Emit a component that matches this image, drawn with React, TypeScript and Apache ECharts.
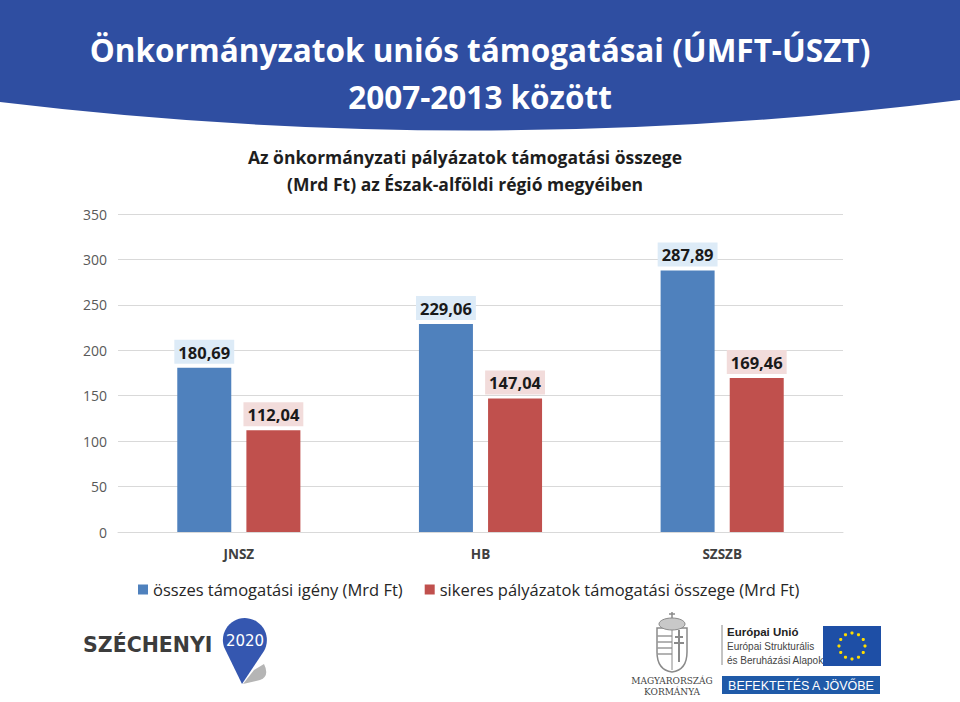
import React, { useEffect, useRef } from "react";
import * as echarts from "echarts";

const categories = ["JNSZ", "HB", "SZSZB"];
const totalDemand = [180.69, 229.06, 287.89];
const successful = [112.04, 147.04, 169.46];
const seriesNames = [
  "összes támogatási igény (Mrd Ft)",
  "sikeres pályázatok támogatási összege (Mrd Ft)",
];
const headerLines = ["Önkormányzatok uniós támogatásai (ÚMFT-ÚSZT)", "2007-2013 között"];
const chartTitleLines = [
  "Az önkormányzati pályázatok támogatási összege",
  "(Mrd Ft) az Észak-alföldi régió megyéiben",
];

const FONT = "'Open Sans', 'Noto Sans', sans-serif";

let registered = false;
function registerShapes() {
  if (registered) return;
  registered = true;
  echarts.graphic.registerShape(
    "headerBand",
    echarts.graphic.extendPath("M0 0 L960 0 L960 100 Q480 160 0 102 Z", {})
  );
  echarts.graphic.registerShape(
    "pinShape",
    echarts.graphic.extendPath("M -21 7 A 22 22 0 1 1 19 11 L -3 44 Z", {})
  );
  echarts.graphic.registerShape(
    "pinShadow",
    echarts.graphic.extendPath("M 8 30 L 18 24 Q 24 36 14 40 L -3 44 Z", {})
  );
  echarts.graphic.registerShape(
    "shield",
    echarts.graphic.extendPath("M -15 -20 L 15 -20 L 15 4 Q 15 22 0 24 Q -15 22 -15 4 Z", {})
  );
}

function txt(x: number, y: number, text: string, o: any = {}) {
  return {
    type: "text",
    x,
    y,
    silent: true,
    style: {
      text,
      fill: o.fill || "#222",
      fontSize: o.fontSize || 14,
      fontWeight: o.fontWeight || "normal",
      fontFamily: o.fontFamily || FONT,
      align: o.align || "left",
      textAlign: o.align || "left",
      verticalAlign: "middle",
      textVerticalAlign: "middle",
    },
  };
}

export default function App() {
  const ref = useRef<HTMLDivElement>(null);
  useEffect(() => {
    document.body.style.margin = "0";
    registerShapes();
    const chart = echarts.init(ref.current!, null, { renderer: "svg" });

    const stars: any[] = [];
    for (let i = 0; i < 12; i++) {
      const a = (i / 12) * Math.PI * 2;
      stars.push({
        type: "circle",
        shape: { cx: 852 + 13 * Math.cos(a), cy: 646 + 13 * Math.sin(a), r: 1.6 },
        style: { fill: "#FFDD00" },
      });
    }

    const graphic: any[] = [
      { type: "headerBand", shape: {}, style: { fill: "#2F4EA1" }, silent: true },
      txt(480, 49, headerLines[0], { fill: "#fff", fontSize: 31.5, fontWeight: "bold", align: "center" }),
      txt(480, 96, headerLines[1], { fill: "#fff", fontSize: 31.5, fontWeight: "bold", align: "center" }),
      txt(465, 157, chartTitleLines[0], { fill: "#1E1E1E", fontSize: 17.5, fontWeight: "bold", align: "center" }),
      txt(465, 184, chartTitleLines[1], { fill: "#1E1E1E", fontSize: 17.5, fontWeight: "bold", align: "center" }),
      // Széchenyi 2020 logo
      txt(83, 645, "SZÉCHENYI", { fill: "#3C3C3C", fontSize: 20.5, fontWeight: "bold", fontFamily: "'DejaVu Sans', sans-serif" }),
      { type: "pinShadow", x: 246, y: 640, shape: {}, style: { fill: "#B5B5B5" } },
      { type: "pinShape", x: 245, y: 640, shape: {}, style: { fill: "#3557B0" } },
      txt(245, 641, "2020", { fill: "#fff", fontSize: 15, align: "center", fontFamily: "'DejaVu Sans', sans-serif" }),
      // Coat of arms (simplified)
      { type: "shield", x: 672, y: 648, shape: {}, style: { fill: "#fff", stroke: "#8A8A8A", lineWidth: 1.5 } },
      { type: "line", shape: { x1: 657, y1: 636, x2: 672, y2: 636 }, style: { stroke: "#9A9A9A", lineWidth: 1.5 } },
      { type: "line", shape: { x1: 657, y1: 642, x2: 672, y2: 642 }, style: { stroke: "#9A9A9A", lineWidth: 1.5 } },
      { type: "line", shape: { x1: 657, y1: 648, x2: 672, y2: 648 }, style: { stroke: "#9A9A9A", lineWidth: 1.5 } },
      { type: "line", shape: { x1: 657, y1: 654, x2: 672, y2: 654 }, style: { stroke: "#9A9A9A", lineWidth: 1.5 } },
      { type: "line", shape: { x1: 679, y1: 630, x2: 679, y2: 662 }, style: { stroke: "#8A8A8A", lineWidth: 2 } },
      { type: "line", shape: { x1: 675, y1: 637, x2: 683, y2: 637 }, style: { stroke: "#8A8A8A", lineWidth: 2 } },
      { type: "line", shape: { x1: 674, y1: 643, x2: 684, y2: 643 }, style: { stroke: "#8A8A8A", lineWidth: 2 } },
      { type: "line", shape: { x1: 672, y1: 628, x2: 672, y2: 670 }, style: { stroke: "#8A8A8A", lineWidth: 1 } },
      { type: "ellipse", shape: { cx: 672, cy: 624, rx: 13, ry: 6 }, style: { fill: "#C8C8C8", stroke: "#8A8A8A", lineWidth: 1 } },
      { type: "line", shape: { x1: 672, y1: 612, x2: 672, y2: 618 }, style: { stroke: "#8A8A8A", lineWidth: 1.5 } },
      { type: "line", shape: { x1: 669, y1: 614, x2: 675, y2: 614 }, style: { stroke: "#8A8A8A", lineWidth: 1.5 } },
      txt(672, 681, "MAGYARORSZÁG", { fill: "#444", fontSize: 9, align: "center", fontFamily: "'DejaVu Serif', serif" }),
      txt(672, 692, "KORMÁNYA", { fill: "#444", fontSize: 9, align: "center", fontFamily: "'DejaVu Serif', serif" }),
      // EU block
      { type: "line", shape: { x1: 722, y1: 625, x2: 722, y2: 665 }, style: { stroke: "#888", lineWidth: 1 } },
      txt(727, 632, "Európai Unió", { fill: "#222", fontSize: 11.5, fontWeight: "bold", fontFamily: "'Liberation Sans', Arial, sans-serif" }),
      txt(727, 646, "Európai Strukturális", { fill: "#444", fontSize: 10, fontFamily: "'Liberation Sans', Arial, sans-serif" }),
      txt(727, 660, "és Beruházási Alapok", { fill: "#444", fontSize: 10, fontFamily: "'Liberation Sans', Arial, sans-serif" }),
      { type: "rect", shape: { x: 823, y: 626, width: 58, height: 40 }, style: { fill: "#1E4FA6" } },
      ...stars,
      { type: "rect", shape: { x: 722, y: 676, width: 158, height: 18 }, style: { fill: "#1F5AA8" } },
      txt(801, 685.5, "BEFEKTETÉS A JÖVŐBE", { fill: "#fff", fontSize: 12.5, align: "center", fontFamily: "'Liberation Sans', Arial, sans-serif" }),
    ];

    const labelFmt = (p: any) => Number(p.value).toFixed(2).replace(".", ",");

    chart.setOption({
      animation: false,
      backgroundColor: "#ffffff",
      textStyle: { fontFamily: FONT },
      grid: { left: 118, right: 117, top: 214, bottom: 170, containLabel: false },
      legend: {
        left: 133,
        top: 576,
        itemWidth: 10,
        itemHeight: 10,
        itemGap: 22,
        icon: "rect",
        textStyle: { fontSize: 16.5, color: "#262626", fontFamily: FONT },
        data: seriesNames,
      },
      xAxis: {
        type: "category",
        data: categories,
        axisLine: { lineStyle: { color: "#D9D9D9" } },
        axisTick: { show: false },
        axisLabel: { color: "#404040", fontSize: 13.5, fontWeight: "bold", margin: 15, fontFamily: FONT },
      },
      yAxis: {
        type: "value",
        min: 0,
        max: 350,
        interval: 50,
        axisLine: { show: false },
        axisTick: { show: false },
        axisLabel: { color: "#595959", fontSize: 14, margin: 11, fontFamily: FONT },
        splitLine: { lineStyle: { color: "#D9D9D9" } },
      },
      series: [
        {
          name: seriesNames[0],
          type: "bar",
          data: totalDemand,
          barWidth: 54,
          barGap: "28%",
          itemStyle: { color: "#4F81BD" },
          label: {
            show: true,
            position: "top",
            distance: 4,
            formatter: labelFmt,
            backgroundColor: "#DDEBF7",
            padding: [4, 4, 3, 4],
            color: "#1A1A1A",
            fontSize: 16.5,
            fontWeight: "bold",
            fontFamily: FONT,
          },
        },
        {
          name: seriesNames[1],
          type: "bar",
          data: successful,
          barWidth: 54,
          itemStyle: { color: "#C0504D" },
          label: {
            show: true,
            position: "top",
            distance: 4,
            formatter: labelFmt,
            backgroundColor: "#F2DCDB",
            padding: [4, 4, 3, 4],
            color: "#1A1A1A",
            fontSize: 16.5,
            fontWeight: "bold",
            fontFamily: FONT,
          },
        },
      ],
      graphic,
    });
    return () => chart.dispose();
  }, []);
  return (
    <div
      ref={ref}
      style={{ width: 960, height: 702, position: "absolute", left: 0, top: 0 }}
    />
  );
}
